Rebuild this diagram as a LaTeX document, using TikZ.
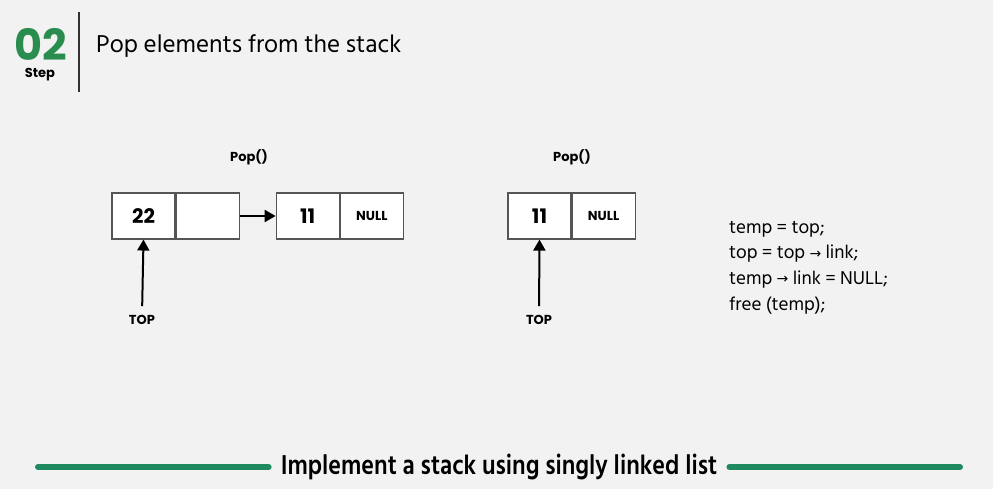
\documentclass[tikz,border=0pt]{standalone}
\usepackage{fontspec}
\setmainfont{Hind Siliguri}
\newfontfamily\popfont{Poppins}
\newfontfamily\condfont[FakeStretch=0.86]{Hind Siliguri}
\newfontfamily\symfont{DejaVu Sans}
\usetikzlibrary{arrows.meta,positioning}
\definecolor{fondo}{HTML}{F2F2F2}
\definecolor{verde}{HTML}{2A8D4F}
\definecolor{barra}{HTML}{1F8A5F}
\definecolor{borde}{HTML}{555555}
\newcommand{\flechita}{{\symfont\fontsize{14}{14}\selectfont\raisebox{0.5pt}{→}}}

\begin{document}
\begin{tikzpicture}[x=1pt, y=-1pt,
      celda/.style={rectangle, draw=borde, fill=white, line width=1.1pt,
                    minimum width=63pt, minimum height=46pt, inner sep=0pt,
                    font=\popfont\bfseries\fontsize{20}{20}\selectfont},
      celdanula/.style={celda, font=\popfont\bfseries\fontsize{13}{13}\selectfont},
      etiq/.style={inner sep=0pt, font=\popfont\bfseries\fontsize{13}{13}\selectfont},
      flecha/.style={-{Triangle[length=11pt, width=12pt]}, line width=2pt},
      linea/.style={draw=barra, line width=6pt, line cap=round}]

    \fill[fondo] (0,0) rectangle (993,489);

    % cabecera
    \node[text=verde, inner sep=0pt, text height=30pt, text depth=0pt, anchor=base,
          font=\popfont\bfseries\fontsize{43}{43}\selectfont] (num) at (41,61) {02};
    \node[etiq, anchor=base, text height=9.5pt, text depth=2.5pt] (paso) at (40,78) {Step};
    \coordinate (sepA) at (79,12);
    \coordinate (sepB) at (79,92);
    \draw[line width=2pt, black!80] (sepA) -- (sepB);
    \node[anchor=west, inner sep=0pt, font=\fontsize{25}{25}\selectfont] (titulo) at (96,46) {Pop elements from the stack};

    % antes del pop
    \node[celda] (a1) at (143.5,216) {22};
    \node[celda, right=0pt of a1] (b1) {};
    \node[celda, right=36pt of b1] (c1) {11};
    \node[celdanula, right=0pt of c1] (d1) {NULL};
    \node[etiq] (pop1) at (249,157) {Pop()};
    \node[etiq] (top1) at (142,320) {TOP};

    \draw[flecha] (b1) -- (c1);
    \draw[flecha, shorten <=9pt] (top1.north) -- (a1.south);

    % despues del pop
    \node[celda] (a2) at (539.5,216) {11};
    \node[celdanula, right=0pt of a2] (b2) {NULL};
    \node[etiq] (pop2) at (572,157) {Pop()};
    \node[etiq] (top2) at (539,320) {TOP};

    \draw[flecha, shorten <=9pt] (top2.north) -- (a2.south);

    % codigo
    \node[anchor=north west, align=left, inner sep=0pt,
          font=\fontsize{19}{25.6}\selectfont] (codigo) at (729,221)
          {temp = top;\\top = top \flechita{} link;\\temp \flechita{} link = NULL;\\free (temp);};

    % pie
    \node[inner xsep=12pt, inner ysep=0pt, font=\condfont\bfseries\fontsize{28}{28}\selectfont] (pie) at (499,467)
          {Implement a stack using singly linked list};
    \coordinate (izq) at (38,467);
    \coordinate (der) at (960,467);
    \draw[linea] (izq) -- (pie.west);
    \draw[linea] (pie.east) -- (der);
  \end{tikzpicture}
\end{document}
